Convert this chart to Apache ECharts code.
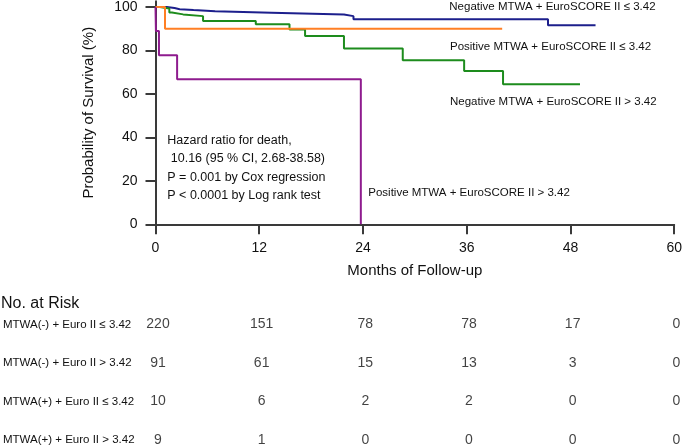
<!DOCTYPE html>
<html><head><meta charset="utf-8">
<script src="https://cdn.jsdelivr.net/npm/echarts@6/dist/echarts.min.js"></script>
<style>html,body{margin:0;padding:0;background:#fff}#c{width:685px;height:446px}</style>
</head><body><div id="c"></div>
<script>
// Kaplan-Meier curves (months, survival %)
const negLowT  = [0, 1.3, 2.2, 2.8, 4.4, 6.9, 13.4, 21.8, 22.9, 45.4, 50.9];
const negLowS  = [100, 99.5, 99.0, 98.6, 98.1, 97.4, 96.5, 95.8, 94.4, 91.6, 91.6];
const posLowT  = [0, 1.1, 40.1];
const posLowS  = [100, 90.0, 90.0];
const negHighT = [0, 0.5, 1.6, 1.9, 3.2, 5.5, 11.6, 15.5, 17.3, 21.8, 28.6, 35.7, 40.2, 49.1];
const negHighS = [100, 99.3, 97.5, 96.6, 95.8, 93.6, 92.1, 89.6, 86.6, 80.9, 75.5, 70.5, 64.5, 64.5];
const posHighT = [0, 0.05, 0.4, 2.5, 23.75];
const posHighS = [100, 88.9, 77.8, 66.7, 0];

const xTicks = [0, 12, 24, 36, 48, 60];
const yTicks = [0, 20, 40, 60, 80, 100];

const curveLabels = [
  'Negative MTWA + EuroSCORE II \u2264 3.42',
  'Positive MTWA + EuroSCORE II \u2264 3.42',
  'Negative MTWA + EuroSCORE II > 3.42',
  'Positive MTWA + EuroSCORE II > 3.42'
];
const statsLines = [
  'Hazard ratio for death,',
  ' 10.16 (95 % CI, 2.68-38.58)',
  'P = 0.001 by Cox regression',
  'P < 0.0001 by Log rank test'
];

// Number at risk
const riskRows = ['MTWA(-) + Euro II \u2264 3.42', 'MTWA(-) + Euro II > 3.42', 'MTWA(+) + Euro II \u2264 3.42', 'MTWA(+) + Euro II > 3.42'];
const riskNegLow  = [220, 151, 78, 78, 17, 0];
const riskNegHigh = [91, 61, 15, 13, 3, 0];
const riskPosLow  = [10, 6, 2, 2, 0, 0];
const riskPosHigh = [9, 1, 0, 0, 0, 0];

const FONT = '"Liberation Sans", Arial, sans-serif';
const TXT = '#111';
const AX = '#3a3a3a';

function pts(t, s) { return t.map((v, i) => [v, s[i]]); }
function curve(name, t, s, color) {
  return { name, type: 'line', step: 'end', data: pts(t, s), showSymbol: false, symbol: 'none',
    xAxisIndex: 0, yAxisIndex: 0, lineStyle: { color, width: 2 }, itemStyle: { color }, animation: false, z: 3 };
}
const riskAll = [riskNegLow, riskNegHigh, riskPosLow, riskPosHigh];
const riskSeries = riskAll.map((row, r) => ({
  type: 'scatter', xAxisIndex: 1, yAxisIndex: 1, symbolSize: 1,
  itemStyle: { color: 'rgba(0,0,0,0)' }, animation: false,
  data: row.map((n, i) => [xTicks[i], r, n]),
  label: { show: true, position: 'inside', formatter: p => String(p.value[2]), fontSize: 14, fontFamily: FONT, color: TXT }
}));

function txt(x, y, text, size) {
  return { type: 'text', x, y, silent: true,
    style: { text, fontSize: size, fontFamily: FONT, fill: TXT, align: 'left', verticalAlign: 'middle' } };
}

const chart = echarts.init(document.getElementById('c'), null, { renderer: 'canvas' });
chart.setOption({
  backgroundColor: '#fff',
  animation: false,
  grid: [
    { left: 155.5, right: 8.7, top: 1, bottom: 221.7 },
    { left: 155.5, right: 8.7, top: 324.5, bottom: 5.5 }
  ],
  xAxis: [
    { type: 'value', gridIndex: 0, min: 0, max: 60, interval: 12,
      name: 'Months of Follow-up', nameLocation: 'middle', nameGap: 39,
      nameTextStyle: { fontSize: 15, fontFamily: FONT, color: TXT },
      axisLine: { show: true, lineStyle: { color: AX, width: 2 } },
      axisTick: { show: true, length: 10, lineStyle: { color: AX, width: 2 } },
      axisLabel: { fontSize: 14, fontFamily: FONT, color: TXT, margin: 17 },
      splitLine: { show: false } },
    { type: 'value', gridIndex: 1, min: 0, max: 60, show: false }
  ],
  yAxis: [
    { type: 'value', gridIndex: 0, min: 0, max: 102.7,
      name: 'Probability of Survival (%)', nameLocation: 'middle', nameGap: 59, nameRotate: 90,
      nameTextStyle: { fontSize: 15, fontFamily: FONT, color: TXT },
      axisLine: { show: true, lineStyle: { color: AX, width: 2 } },
      axisTick: { show: true, length: 10, customValues: yTicks, lineStyle: { color: AX, width: 2 } },
      axisLabel: { fontSize: 14, fontFamily: FONT, color: TXT, margin: 18, customValues: yTicks },
      splitLine: { show: false } },
    { type: 'value', gridIndex: 1, min: 0, max: 3, interval: 1, inverse: true,
      axisLine: { show: false }, axisTick: { show: false }, splitLine: { show: false },
      axisLabel: { show: true, align: 'left', margin: 155, fontSize: 11.5, fontFamily: FONT, color: TXT,
        formatter: v => riskRows[v] || '' } }
  ],
  series: [
    curve('negLow', negLowT, negLowS, '#1c1f8c'),
    curve('negHigh', negHighT, negHighS, '#1d8c1d'),
    curve('posLow', posLowT, posLowS, '#ff7f24'),
    curve('posHigh', posHighT, posHighS, '#8e1b8e'),
    ...riskSeries
  ],
  graphic: [
    txt(449.3, 7.3, curveLabels[0], 11.5),
    txt(450, 46.7, curveLabels[1], 11.5),
    txt(450, 102.3, curveLabels[2], 11.5),
    txt(368.3, 193.3, curveLabels[3], 11.5),
    txt(167.3, 140.7, statsLines[0], 12.5),
    txt(167.3, 159, statsLines[1], 12.5),
    txt(167.3, 177.7, statsLines[2], 12.5),
    txt(167.3, 196, statsLines[3], 12.5),
    txt(1, 303.3, 'No. at Risk', 16)
  ]
});
</script>
</body></html>
